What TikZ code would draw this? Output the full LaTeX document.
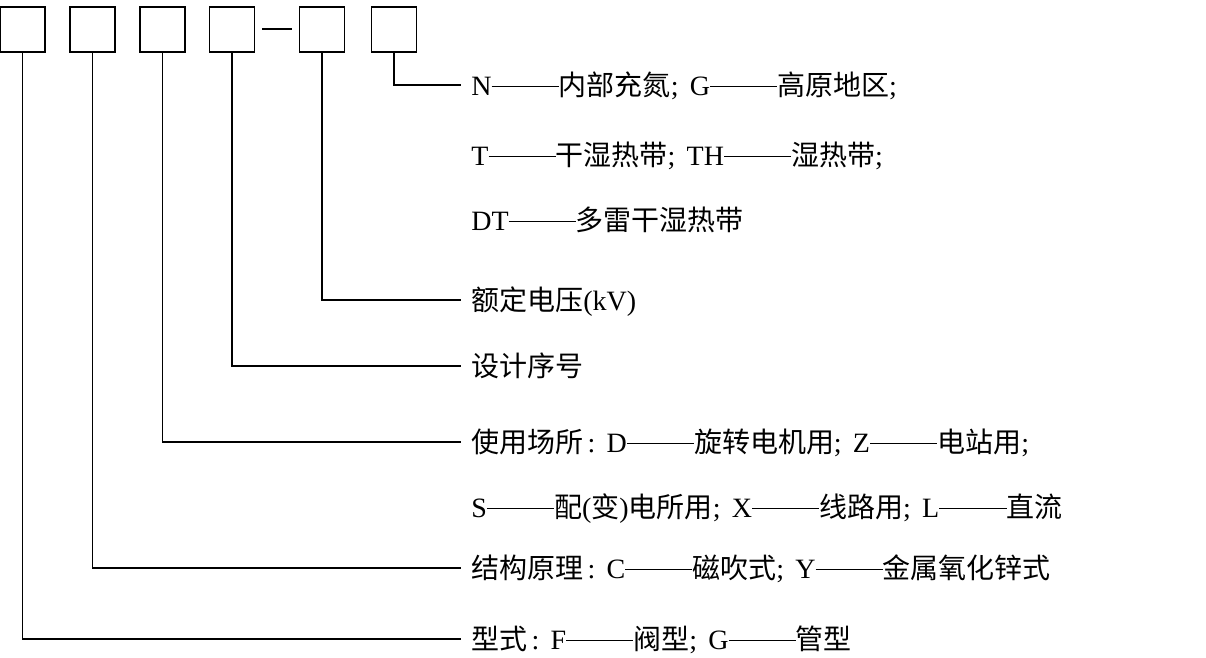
\documentclass[tikz,border=0pt]{standalone}
\usepackage{fontspec}
\setmainfont{Liberation Serif}
\newfontfamily\cjk{Noto Sans CJK SC}
\newcommand\zh[1]{{\cjk #1}}
\newcommand\dd{\rule[0.3em]{2.4em}{0.5pt}}
\newcommand\sm{;\hspace{0.4em}}
\newcommand\cl{\hspace{0.15em}:\hspace{0.4em}}
\begin{document}
\begin{tikzpicture}[x=0.5pt,y=-0.5pt,
  codebox/.style={draw,line width=0.7pt,minimum size=22.5pt,inner sep=0pt},
  lbl/.style={anchor=west,inner sep=0pt,inner xsep=5pt,text height=11pt,text depth=0.8pt,font=\fontsize{14pt}{16pt}\selectfont},
  conn/.style={line width=0.7pt}]
\useasboundingbox (0,0) rectangle (1206,658);
\node[codebox] (b1) at (22.5,29.5) {};
\node[codebox] (b2) at (92.5,29.5) {};
\node[codebox] (b3) at (162.5,29.5) {};
\node[codebox] (b4) at (232,29.5) {};
\node[codebox] (b5) at (322,29.5) {};
\node[codebox] (b6) at (394,29.5) {};
\coordinate (d1) at (262,29);
\coordinate (d2) at (292,29);
\draw[conn] (d1) -- (d2);
\node[lbl] (t1) at (461,85) {N\dd\zh{内部充氮}\sm G\dd\zh{高原地区};};
\node[lbl] (t2) at (461,155) {T\dd\zh{干湿热带}\sm TH\dd\zh{湿热带};};
\node[lbl] (t3) at (461,220) {DT\dd\zh{多雷干湿热带}};
\node[lbl] (t4) at (461,300) {\zh{额定电压}(kV)};
\node[lbl] (t5) at (461,366) {\zh{设计序号}};
\node[lbl] (t6) at (461,442) {\zh{使用场所}\cl D\dd\zh{旋转电机用}\sm Z\dd\zh{电站用};};
\node[lbl] (t7) at (461,507) {S\dd\zh{配}(\zh{变})\zh{电所用}\sm X\dd\zh{线路用}\sm L\dd\zh{直流}};
\node[lbl] (t8) at (461,568) {\zh{结构原理}\cl C\dd\zh{磁吹式}\sm Y\dd\zh{金属氧化锌式}};
\node[lbl] (t9) at (461,639) {\zh{型式}\cl F\dd\zh{阀型}\sm G\dd\zh{管型}};
\draw[conn] (b6.south) |- (t1.west);
\draw[conn] (b5.south) |- (t4.west);
\draw[conn] (b4.south) |- (t5.west);
\draw[conn] (b3.south) |- (t6.west);
\draw[conn] (b2.south) |- (t8.west);
\draw[conn] (b1.south) |- (t9.west);
\end{tikzpicture}
\end{document}
